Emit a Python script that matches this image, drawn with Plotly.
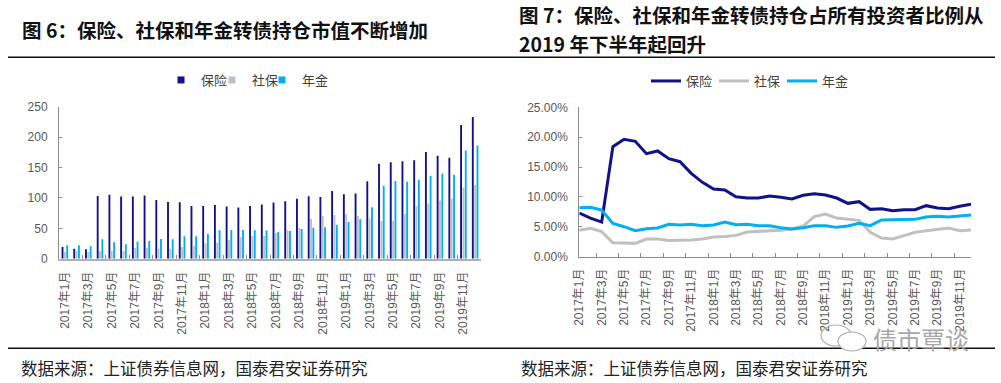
import plotly.graph_objects as go

W, H = 1001, 383

months = [f"{y}年{m}月" for y in (2017, 2018, 2019) for m in range(1, 13)]

series_names = ["保险", "社保", "年金"]

# 图6: 持仓市值 (亿元)
insurance_mv = [19.2, 16.5, 15.4, 103.3, 105, 102.2, 102.2, 103.8, 96.7, 93.4,
                92.9, 86.8, 86.8, 88.5, 85.7, 84.1, 86.8, 89, 92.3, 94.5,
                98.4, 102.7, 101.6, 111.5, 106, 107.1, 127.5, 156, 158.8, 160.4,
                162.1, 175.3, 169.2, 165.9, 219.8, 233]
social_mv = [11, 12.6, 11, 12.6, 12.6, 12.6, 17.6, 17.6, 16.5, 16.5,
             19.2, 21.4, 25.3, 26.4, 30.8, 35.7, 37.4, 37.4, 41.8, 46.7,
             50.5, 65.4, 70.3, 72, 73.6, 70.3, 66.5, 62.1, 62.6, 73.6,
             86.8, 90.7, 95.6, 98.9, 116.5, 121.4]
pension_mv = [22, 22, 20.3, 31.9, 26.9, 23.6, 28, 29.1, 32.4, 31.9,
              36.8, 36.8, 41.2, 46.7, 47.3, 47.3, 46.7, 46.2, 44, 45.6,
              48.9, 51.1, 51.6, 56, 60.4, 64.8, 84.6, 119.8, 128, 126.4,
              129.7, 136.3, 140.1, 137.9, 178, 186.3]

# 图7: 持仓占比 (%)
insurance_share = [7.31, 6.47, 5.80, 18.42, 19.64, 19.31, 17.24, 17.69, 16.41, 15.90,
                   13.95, 12.44, 11.33, 11.16, 10.04, 9.82, 9.82, 10.16, 9.93, 9.65,
                   10.27, 10.55, 10.32, 9.82, 8.93, 9.21, 7.92, 8.04, 7.70, 7.87,
                   7.87, 8.54, 8.15, 8.04, 8.43, 8.76]
social_share = [4.41, 4.74, 4.19, 2.34, 2.29, 2.23, 2.96, 2.96, 2.73, 2.73,
                2.79, 2.96, 3.29, 3.40, 3.57, 4.13, 4.24, 4.24, 4.43, 4.63,
                5.13, 6.70, 7.14, 6.47, 6.31, 6.08, 4.07, 3.13, 2.96, 3.52,
                4.07, 4.35, 4.58, 4.80, 4.35, 4.46]
pension_share = [8.20, 8.26, 7.81, 5.58, 5.02, 4.35, 4.69, 4.80, 5.41, 5.30,
                 5.41, 5.19, 5.30, 5.80, 5.36, 5.41, 5.19, 5.19, 4.85, 4.63,
                 4.85, 5.19, 5.19, 4.91, 5.13, 5.58, 5.19, 6.14, 6.19, 6.19,
                 6.25, 6.64, 6.75, 6.64, 6.81, 6.98]

colors = ["#11118c", "#c0c0c0", "#00b0f0"]

title_left = "图 6：保险、社保和年金转债持仓市值不断增加"
title_right_1 = "图 7：保险、社保和年金转债持仓占所有投资者比例从"
title_right_2 = "2019 年下半年起回升"
source_text = "数据来源：上证债券信息网，国泰君安证券研究"
watermark = "债市覃谈"

CJK = "Noto Sans CJK SC"
NUM = "Liberation Sans, Noto Sans CJK SC"


def px(x):
    return x / W


def py(y):
    return (H - y) / H


# legend anchor x positions (px) for each item
bar_legend_x = [161, 212, 262]
line_legend_x = [646, 714, 782]

fig = go.Figure()
legend_layouts = {}

for i, (name, vals, c) in enumerate(zip(series_names, [insurance_mv, social_mv, pension_mv], colors)):
    lg = "legend" if i == 0 else f"legend{i + 1}"
    fig.add_trace(go.Bar(x=months, y=vals, name=name, marker_color=c,
                         marker_line_width=0, xaxis="x", yaxis="y",
                         showlegend=False))
    fig.add_trace(go.Scatter(x=[None], y=[None], mode="markers", name=name,
                             marker=dict(symbol="square", size=7, color=c),
                             xaxis="x", yaxis="y", legend=lg))
    legend_layouts[lg] = dict(orientation="h", x=px(bar_legend_x[i]), y=py(80),
                              xanchor="left", yanchor="middle",
                              font=dict(family=CJK, size=13, color="#404040"),
                              itemwidth=30, bgcolor="rgba(0,0,0,0)")

for i, (name, vals, c) in enumerate(zip(series_names, [insurance_share, social_share, pension_share], colors)):
    lg = f"legend{i + 4}"
    fig.add_trace(go.Scatter(x=months, y=vals, name=name, mode="lines",
                             line=dict(color=c, width=3), xaxis="x2", yaxis="y2",
                             legend=lg))
    legend_layouts[lg] = dict(orientation="h", x=px(line_legend_x[i]), y=py(81),
                              xanchor="left", yanchor="middle",
                              font=dict(family=CJK, size=13, color="#404040"),
                              itemwidth=30, bgcolor="rgba(0,0,0,0)")

axis_common = dict(showgrid=False, zeroline=False, showline=True,
                   ticks="inside", fixedrange=True, automargin=False)

fig.update_layout(
    width=W, height=H,
    margin=dict(l=0, r=0, t=0, b=0, pad=0, autoexpand=False),
    paper_bgcolor="white", plot_bgcolor="white",
    barmode="group", bargap=0.4, bargroupgap=0.2,
    font=dict(family=NUM, color="#595959"),
    xaxis=dict(domain=[px(59), px(481)], type="category",
               tickmode="linear", tick0=0, dtick=2, tickson="boundaries",
               tickangle=-90, tickfont=dict(size=12, family=NUM, color="#595959"),
               linecolor="#b0b0b0", linewidth=2, tickcolor="#909090", ticklen=4,
               ticklabelstandoff=6, anchor="y", **axis_common),
    yaxis=dict(domain=[py(258.7), py(106.7)], range=[0, 250], dtick=50,
               tickfont=dict(size=12, family=NUM, color="#595959"),
               linecolor="#8c8c8c", linewidth=1, tickcolor="#8c8c8c", ticklen=3,
               ticklabelstandoff=8, anchor="x", **axis_common),
    xaxis2=dict(domain=[px(579.3), px(971)], type="category",
                tickmode="linear", tick0=0, dtick=2, tickson="boundaries",
                tickangle=-90, tickfont=dict(size=12, family=NUM, color="#595959"),
                linecolor="#8c8c8c", linewidth=1, tickcolor="#8c8c8c", ticklen=4,
                ticklabelstandoff=6, anchor="y2", **axis_common),
    yaxis2=dict(domain=[py(256.7), py(107.3)], range=[0, 25], dtick=5,
                tickformat=".2f", ticksuffix="%",
                tickfont=dict(size=12, family=NUM, color="#595959"),
                linecolor="#8c8c8c", linewidth=1, tickcolor="#8c8c8c", ticklen=3,
                ticklabelstandoff=8, anchor="x2", **axis_common),
    **legend_layouts,
)

annotations = [
    dict(text=title_left, x=px(20), y=py(29), font=dict(family=CJK, size=19.5, color="#111111", weight="bold")),
    dict(text=title_right_1, x=px(517), y=py(15), font=dict(family=CJK, size=19.5, color="#111111", weight="bold")),
    dict(text=title_right_2, x=px(517), y=py(43), font=dict(family=CJK, size=19.5, color="#111111", weight="bold")),
    dict(text=source_text, x=px(19), y=py(368), font=dict(family=CJK, size=16.5, color="#222222")),
    dict(text=source_text, x=px(519), y=py(368), font=dict(family=CJK, size=16.5, color="#222222")),
    dict(text=watermark, x=px(871), y=py(338), font=dict(family=CJK, size=24, color="#a8a8a8")),
]
for a in annotations:
    a.update(xref="paper", yref="paper", xanchor="left", yanchor="middle", showarrow=False)
fig.update_layout(annotations=annotations)

shapes = [
    dict(type="line", x0=px(8), x1=px(995), y0=py(57.3), y1=py(57.3), line=dict(color="#111111", width=1.5)),
    dict(type="line", x0=px(8), x1=px(995), y0=py(348.3), y1=py(348.3), line=dict(color="#111111", width=1.5)),
    dict(type="circle", x0=px(821), x1=px(851), y0=py(346), y1=py(325), line=dict(color="#b0b0b0", width=1.2)),
    dict(type="circle", x0=px(838), x1=px(866), y0=py(351), y1=py(332), line=dict(color="#b0b0b0", width=1.2), fillcolor="white"),
]
for s in shapes:
    s.update(xref="paper", yref="paper")
fig.update_layout(shapes=shapes)

fig.write_html("out.html",
               config={"displayModeBar": False, "staticPlot": True},
               post_script="document.body.style.margin='0';document.body.style.overflow='hidden';")
